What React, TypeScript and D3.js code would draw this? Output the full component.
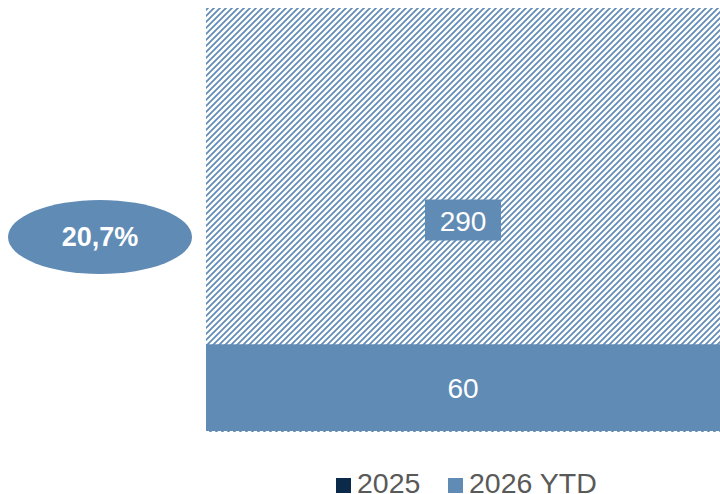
import React from "react";
import * as d3 from "d3";

const categories = ["Total"];
const totalValues = [290];
const ytdValues = [60];
const ratioLabel = "20,7%";
const legendLabels = ["2025", "2026 YTD"];
const legendColors = ["#0b2a4a", "#5f8bb5"];

const W = 720;
const H = 494;

export default function App() {
  const x = d3.scaleBand<string>().domain(categories).range([206, 720]).padding(0);
  const y = d3.scaleLinear().domain([0, 290]).range([432, 8]);
  const blue = "#5f8bb5";
  const font = "Liberation Sans, Arial, sans-serif";
  const sp = 6;
  return (
    <svg
      width={W}
      height={H}
      style={{ position: "absolute", left: 0, top: 0, background: "#fff" }}
      fontFamily={font}
    >
      <defs>
        <pattern id="hatch" patternUnits="userSpaceOnUse" width={sp} height={sp}>
          <rect width={sp} height={sp} fill="#fff" />
          <path
            d={`M0,${sp} L${sp},0 M-2,2 L2,-2 M${sp - 2},${sp + 2} L${sp + 2},${sp - 2}`}
            stroke={blue}
            strokeWidth={1.7}
          />
        </pattern>
      </defs>
      {categories.map((c, i) => {
        const bx = x(c)!;
        const bw = x.bandwidth();
        const cx = bx + bw / 2;
        const yTop = y(totalValues[i]);
        const yBot = y(0);
        const ySolid = y(ytdValues[i]);
        const midY = (yTop + yBot) / 2;
        return (
          <g key={c}>
            <rect x={bx} y={yTop} width={bw} height={yBot - yTop} fill="url(#hatch)" />
            <rect x={bx} y={ySolid} width={bw} height={yBot - ySolid - 1} fill={blue} />
            <rect x={cx - 38} y={midY - 20.5} width={76} height={41} fill={blue} />
            <text x={cx} y={midY + 11} textAnchor="middle" fill="#fff" fontSize={28}>
              {totalValues[i]}
            </text>
            <text x={cx} y={(ySolid + yBot) / 2 + 9.5} textAnchor="middle" fill="#fff" fontSize={28}>
              {ytdValues[i]}
            </text>
          </g>
        );
      })}
      <ellipse cx={100} cy={237} rx={92} ry={37} fill={blue} />
      <text x={100} y={246} textAnchor="middle" fill="#fff" fontSize={27} fontWeight="bold">
        {ratioLabel}
      </text>
      {legendLabels.map((l, i) => {
        const lx = [336, 448][i];
        return (
          <g key={l}>
            <rect x={lx} y={478} width={15} height={15} fill={legendColors[i]} />
            <text x={lx + 21} y={493} fill="#595959" fontSize={28.5}>
              {l}
            </text>
          </g>
        );
      })}
    </svg>
  );
}
